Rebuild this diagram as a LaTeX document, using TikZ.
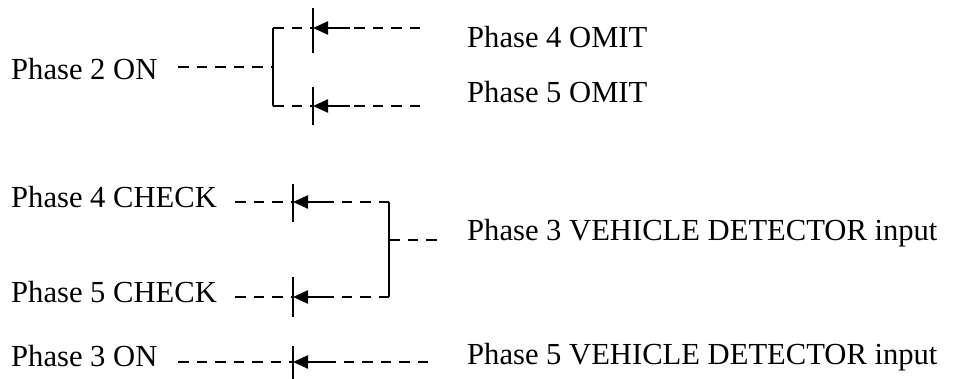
\documentclass[tikz,border=0pt]{standalone}
\usepackage{fontspec}
\setmainfont{Liberation Serif}
\usetikzlibrary{arrows.meta}
\begin{document}
\begin{tikzpicture}[x=1pt,y=-1pt,
  lbl/.style={anchor=base west, inner sep=0pt, font=\fontsize{30.6}{36}\selectfont},
  dsh/.style={line width=2.3pt, dash pattern=on 10.5pt off 8pt},
  sol/.style={line width=2.3pt},
  arr/.style={line width=2.3pt, -{Triangle[length=15pt,width=13pt]}},
  bar/.style={line width=2.3pt}]
\useasboundingbox (0,0) rectangle (954,379);

% labels
\node[lbl] (p2on)  at (11,80)  {Phase 2 ON};
\node[lbl] (p4om)  at (467,48) {Phase 4 OMIT};
\node[lbl] (p5om)  at (467,103) {Phase 5 OMIT};
\node[lbl] (p4ck)  at (11,208) {Phase 4 CHECK};
\node[lbl] (p5ck)  at (11,303) {Phase 5 CHECK};
\node[lbl] (p3vd)  at (467,241) {Phase 3 VEHICLE DETECTOR input};
\node[lbl] (p3on)  at (11,367) {Phase 3 ON};
\node[lbl] (p5vd)  at (467,365) {Phase 5 VEHICLE DETECTOR input};

% ---- top group
\coordinate (a0) at (178,67);
\coordinate (aj) at (273,67);
\coordinate (at) at (273,28);
\coordinate (ab) at (273,106);
\coordinate (x1) at (313,28);
\coordinate (x2) at (313,106);
\coordinate (s1) at (350,28);
\coordinate (s2) at (350,106);
\coordinate (e1) at (420,28);
\coordinate (e2) at (420,106);

\draw[dsh] (a0) -- (aj);
\draw[sol] (at) -- (ab);
\draw[dsh] (at) -- (x1);
\draw[dsh] (ab) -- (x2);
\draw[bar] ([yshift=-25pt]x1) -- ([yshift=20pt]x1);
\draw[bar] ([yshift=-19pt]x2) -- ([yshift=19pt]x2);
\draw[arr] (s1) -- (x1);
\draw[arr] (s2) -- (x2);
\draw[dsh] (e1) -- (s1);
\draw[dsh] (e2) -- (s2);

% ---- middle group
\coordinate (b1) at (235,202);
\coordinate (b2) at (235,297);
\coordinate (y1) at (293,202);
\coordinate (y2) at (293,297);
\coordinate (t1) at (333,202);
\coordinate (t2) at (333,297);
\coordinate (v1) at (389,202);
\coordinate (v2) at (389,297);
\coordinate (vm) at (389,240);
\coordinate (vo) at (440,240);

\draw[dsh] (b1) -- (y1);
\draw[dsh] (b2) -- (y2);
\draw[bar] ([yshift=-20pt]y1) -- ([yshift=18pt]y1);
\draw[bar] ([yshift=-20pt]y2) -- ([yshift=20pt]y2);
\draw[arr] (t1) -- (y1);
\draw[arr] (t2) -- (y2);
\draw[dsh] (v1) -- (t1);
\draw[dsh] (v2) -- (t2);
\draw[sol] (v1) -- (v2);
\draw[dsh] (vm) -- (vo);

% ---- bottom row
\coordinate (c0) at (178,362);
\coordinate (z1) at (293,362);
\coordinate (u1) at (325,362);
\coordinate (w1) at (428,362);
\draw[dsh] (c0) -- (z1);
\draw[bar] ([yshift=-20pt]z1) -- ([yshift=16pt]z1);
\draw[arr] (u1) -- (z1);
\draw[dsh] (w1) -- (u1);
\end{tikzpicture}
\end{document}
